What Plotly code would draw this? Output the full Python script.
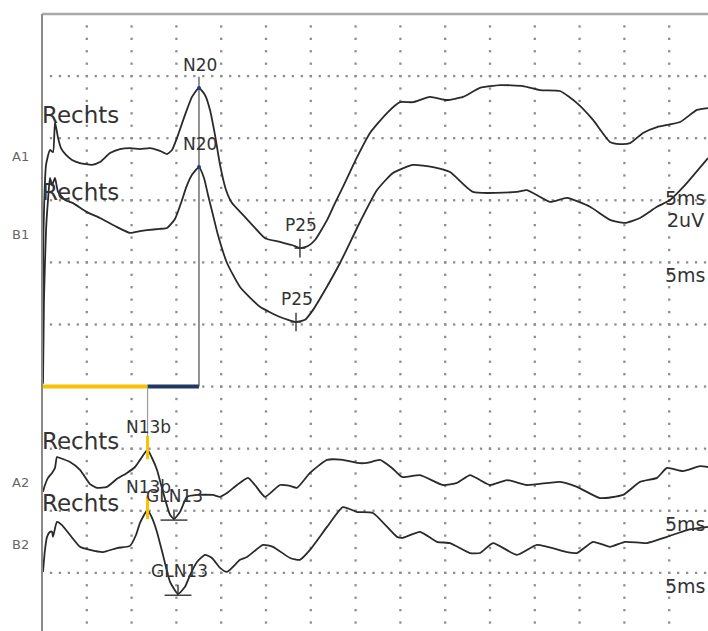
import plotly.graph_objects as go

# ---------------------------------------------------------------
# Somatosensory evoked potentials, right-side stimulation
# time base 5 ms/div, sensitivity 2 uV/div (negative up)
# ---------------------------------------------------------------
MS_PER_DIV = 5.0
UV_PER_DIV = 2.0
X_MAX_MS = 74.33          # visible sweep
Y_DIVS = 9.936            # visible vertical divisions
BAR_DIV = 6.0             # latency bar row

channels = ["A1", "B1", "A2", "B2"]
side_label = ["Rechts", "Rechts", "Rechts", "Rechts"]
baseline_div = [2.3, 3.55, 7.55, 8.55]
scale_lines = [["5ms", "2uV"], ["5ms"], ["5ms"], ["5ms"]]

# cortical channels
a1_ms = [0.06, 0.17, 0.45, 0.89, 1.23, 1.45, 1.79, 2.12, 2.68, 3.35, 4.24, 5.58, 6.47,
         7.59, 8.71, 9.82, 10.94, 12.05, 13.17, 13.95, 14.51, 15.18, 15.96, 16.74, 17.52,
         18.19, 18.75, 19.31, 19.87, 20.54, 21.21, 22.43, 23.77, 24.89, 26.56, 27.90, 28.79,
         29.69, 30.47, 31.81, 32.70, 33.59, 35.16, 36.61, 38.50, 39.96, 41.41, 43.30, 45.20,
         46.99, 48.88, 51.12, 53.68, 55.58, 57.81, 59.71, 61.50, 63.39, 64.51, 65.63, 67.08,
         68.64, 71.21, 73.10, 74.33]
a1_uv = [5.58, 2.36, 0.26, -0.22, -0.15, -1.12, -0.61, -0.28, -0.06, 0.10, 0.20, 0.26, 0.17,
         -0.12, -0.25, -0.28, -0.25, -0.28, -0.19, -0.09, -0.22, -0.70, -1.35, -1.93, -2.22,
         -1.99, -1.51, -0.70, 0.26, 1.07, 1.49, 1.87, 2.29, 2.62, 2.74, 2.84, 2.94,
         2.87, 2.68, 2.04, 1.49, 0.97, 0.01, -0.77, -1.41, -1.76, -1.76, -1.93, -1.83,
         -1.93, -2.22, -2.31, -2.28, -2.15, -2.12, -1.73, -1.19, -0.48, -0.41, -0.44, -0.77,
         -0.96, -1.12, -1.51, -1.57]

b1_ms = [0.11, 0.22, 0.45, 0.67, 0.89, 1.12, 1.45, 1.79, 2.57, 3.46, 5.02, 6.47, 8.15, 9.82,
         10.94, 11.72, 13.17, 13.95, 14.84, 15.63, 16.07, 16.74, 17.52, 18.08, 18.53, 19.08,
         19.64, 20.65, 22.10, 24.33, 26.56, 28.35, 29.35, 30.25, 31.59, 33.26, 35.49, 37.39,
         39.17, 41.41, 43.64, 45.54, 48.10, 53.01, 54.13, 56.70, 58.59, 61.16, 63.39, 65.07,
         66.74, 68.64, 70.09, 71.76, 74.33]
b1_uv = [4.81, 2.11, -0.14, -1.11, -1.82, -1.59, -1.82, -1.37, -1.11, -1.01, -0.72, -0.53,
         -0.27, -0.05, -0.11, -0.14, -0.18, -0.21, -0.50, -1.11, -1.50, -1.92, -2.17, -1.82,
         -1.27, -0.63, 0.02, 0.92, 1.69, 2.33, 2.66, 2.82, 2.75, 2.43, 1.79, 0.92, -0.40,
         -1.43, -1.98, -2.24, -2.17, -2.01, -1.37, -1.37, -1.43, -1.05, -1.18, -0.89, -0.47,
         -0.37, -0.53, -0.89, -1.11, -1.59, -2.46]

# cervical channels
a2_ms = [0.11, 0.33, 0.67, 1.12, 1.45, 1.67, 2.01, 3.13, 4.24, 5.36, 6.14, 7.25, 8.37, 9.49,
         10.38, 10.94, 11.78, 12.28, 12.83, 13.50, 14.29, 14.73, 15.40, 16.18, 17.30, 19.08,
         19.87, 20.65, 21.76, 22.99, 23.77, 24.89, 26.56, 27.68, 28.46, 29.91, 31.81, 33.59,
         35.16, 36.27, 37.72, 39.06, 40.18, 42.19, 44.75, 46.32, 47.77, 48.88, 50.00, 51.90,
         54.13, 57.81, 59.71, 62.28, 64.84, 66.74, 68.64, 69.75, 71.54, 73.44, 74.33]
a2_uv = [0.29, 0.07, -0.16, -0.32, -0.48, -0.83, -0.80, -0.67, -0.42, 0.04, 0.16, 0.13, -0.13,
         -0.32, -0.51, -0.74, -1.06, -0.80, -0.42, 0.29, 1.03, 1.16, 0.94, 0.45, 0.39, 0.39,
         0.45, 0.33, 0.07, -0.16, 0.07, 0.45, 0.07, 0.10, 0.16, -0.32, -0.74, -0.74, -0.64,
         -0.64, -0.74, -0.48, -0.19, -0.25, 0.07, 0.00, -0.25, -0.09, 0.07, -0.09, 0.07,
         -0.03, 0.13, 0.49, 0.39, -0.03, -0.16, -0.48, -0.38, -0.54, -0.51]

b2_ms = [0.11, 0.33, 0.56, 0.89, 1.12, 1.23, 1.67, 2.23, 3.13, 4.24, 5.36, 6.81, 8.37, 9.82,
         10.49, 10.94, 11.78, 12.28, 12.83, 13.50, 14.29, 15.18, 15.96, 16.52, 17.30, 18.19,
         18.97, 19.87, 20.65, 22.10, 22.88, 24.67, 25.78, 27.68, 28.79, 29.91, 31.81, 33.59,
         35.16, 36.94, 39.62, 40.29, 42.19, 44.08, 45.54, 47.77, 48.88, 50.33, 53.01, 55.25,
         58.59, 59.71, 61.50, 63.39, 65.07, 67.52, 69.75, 71.99, 74.33]
b2_uv = [0.87, 0.16, -0.26, -0.42, -0.42, -0.26, -0.74, -0.64, -0.32, 0.06, 0.16, 0.23, 0.10,
         0.03, -0.32, -0.71, -1.13, -0.87, -0.42, 0.32, 1.19, 1.58, 1.35, 0.97, 0.55, 0.32,
         0.42, 0.74, 0.87, 0.48, 0.39, 0.00, 0.06, 0.42, 0.48, 0.16, -0.58, -1.22, -1.06,
         -1.03, -0.26, -0.23, -0.42, -0.10, -0.06, 0.26, 0.26, -0.06, 0.32, 0.00, 0.23, 0.26,
         -0.10, 0.06, -0.10, -0.06, -0.26, -0.48, -0.58]

# marked components
peak_channel = [0, 1, 0, 1, 2, 3, 2, 3]
peak_name = ["N20", "N20", "P25", "P25", "N13b", "N13b", "GLN13", "GLN13"]
peak_ms = [17.52, 17.52, 28.79, 28.35, 11.78, 11.78, 14.73, 15.18]
peak_uv = [-2.22, -2.17, 2.94, 2.82, -1.06, -1.13, 1.16, 1.58]

traces_ms = [a1_ms, b1_ms, a2_ms, b2_ms]
traces_uv = [a1_uv, b1_uv, a2_uv, b2_uv]

TEXT = "#333333"
FONT = "DejaVu Sans"


def ypos(ch, uv):
    return baseline_div[ch] + uv / UV_PER_DIV


fig = go.Figure()

# dotted graticule: dots at 1/5 division along every major line
gx, gy = [], []
n_xdiv = int(X_MAX_MS // MS_PER_DIV)
for k in range(1, n_xdiv + 1):
    for j in range(1, int(Y_DIVS * 5) + 1):
        gx.append(k * MS_PER_DIV)
        gy.append(j / 5)
for r in range(1, int(Y_DIVS) + 1):
    for i in range(1, int(X_MAX_MS) + 1):
        gx.append(i * MS_PER_DIV / 5)
        gy.append(r)
fig.add_trace(go.Scatter(x=gx, y=gy, mode="markers", hoverinfo="skip",
                         marker=dict(symbol="square", size=2.3, color="#8e8e8e",
                                     line=dict(width=0))))

# latency bar: stimulus -> N13b (yellow), N13b -> N20 (navy)
n13_t = peak_ms[4]
n20_t = peak_ms[0]
fig.add_trace(go.Scatter(x=[0, n13_t], y=[BAR_DIV, BAR_DIV], mode="lines",
                         line=dict(color="#f7c200", width=4), hoverinfo="skip"))
fig.add_trace(go.Scatter(x=[n13_t, n20_t], y=[BAR_DIV, BAR_DIV], mode="lines",
                         line=dict(color="#1f3864", width=4), hoverinfo="skip"))

# cursor lines
a1_n20_y = ypos(peak_channel[0], peak_uv[0])
fig.add_trace(go.Scatter(x=[n20_t, n20_t], y=[BAR_DIV, a1_n20_y - 0.18], mode="lines",
                         line=dict(color="#4a4a4a", width=1.2), hoverinfo="skip"))
a2_n13_y = ypos(peak_channel[4], peak_uv[4])
fig.add_trace(go.Scatter(x=[n13_t, n13_t], y=[BAR_DIV, a2_n13_y - 0.225], mode="lines",
                         line=dict(color="#9a9a9a", width=1.2), hoverinfo="skip"))

# waveforms
for ch in range(4):
    fig.add_trace(go.Scatter(
        x=traces_ms[ch], y=[ypos(ch, v) for v in traces_uv[ch]], mode="lines",
        line=dict(color="#2a2a2a", width=1.8, shape="spline", smoothing=0.5),
        hoverinfo="skip"))

# component markers
cx, cy = [], []
yx, yy = [], []
dx, dy = [], []
for ch, name, t, v in zip(peak_channel, peak_name, peak_ms, peak_uv):
    y = ypos(ch, v)
    if name == "P25":
        cx += [t, t, None, t - 0.6, t + 0.6, None]
        cy += [y - 0.15, y + 0.15, None, y, y, None]
    elif name == "GLN13":
        cx += [t - 1.5, t + 1.5, None, t, t, None]
        cy += [y + 0.02, y + 0.02, None, y + 0.02, y - 0.15, None]
    elif name == "N13b":
        yx += [t, t, None]
        yy += [y - 0.225, y + 0.15, None]
    elif name == "N20":
        dx.append(t)
        dy.append(y)
fig.add_trace(go.Scatter(x=cx, y=cy, mode="lines", line=dict(color="#333333", width=1.4),
                         hoverinfo="skip"))
fig.add_trace(go.Scatter(x=yx, y=yy, mode="lines", line=dict(color="#f7c200", width=3),
                         hoverinfo="skip"))
fig.add_trace(go.Scatter(x=dx, y=dy, mode="markers", hoverinfo="skip",
                         marker=dict(color="#1f3b8a", size=4)))

annotations = []
for ch in range(4):
    annotations.append(dict(x=0, xref="paper", xanchor="right", xshift=-11,
                            y=baseline_div[ch], yref="y", text=channels[ch],
                            showarrow=False, font=dict(family=FONT, size=13, color="#666666")))
    annotations.append(dict(x=0, xref="x", xanchor="left", xshift=-2,
                            y=baseline_div[ch], yref="y", yshift=42, text=side_label[ch],
                            showarrow=False, font=dict(family=FONT, size=23, color=TEXT)))
    for n, line in enumerate(scale_lines[ch]):
        annotations.append(dict(x=69.5, xref="x", xanchor="left", xshift=-2 + 2 * n,
                                y=baseline_div[ch], yref="y", yshift=-41 - 22 * n,
                                text=line, showarrow=False,
                                font=dict(family=FONT, size=19, color=TEXT)))
for ch, name, t, v in zip(peak_channel, peak_name, peak_ms, peak_uv):
    annotations.append(dict(x=t, y=ypos(ch, v), xref="x", yref="y", xshift=1, yshift=23,
                            text=name, showarrow=False,
                            font=dict(family=FONT, size=17, color=TEXT)))

shapes = [
    dict(type="line", xref="paper", yref="paper", x0=0, x1=1, y0=1, y1=1,
         line=dict(color="#a8a8a8", width=2.5)),
    dict(type="line", xref="paper", yref="paper", x0=0, x1=0, y0=0, y1=1,
         line=dict(color="#8a8a8a", width=2)),
]

fig.update_layout(
    width=708, height=631,
    margin=dict(l=42, r=0, t=14, b=0),
    paper_bgcolor="white", plot_bgcolor="white",
    showlegend=False,
    xaxis=dict(range=[0, X_MAX_MS], showgrid=False, zeroline=False, showticklabels=False,
               ticks=""),
    yaxis=dict(range=[Y_DIVS, 0], showgrid=False, zeroline=False, showticklabels=False,
               ticks=""),
    annotations=annotations,
    shapes=shapes,
)

fig.write_html("out.html", config={"displayModeBar": False})
